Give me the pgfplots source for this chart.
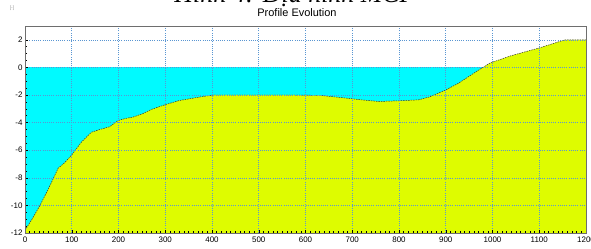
\documentclass[border=0pt]{standalone}
\usepackage{fontspec}
\setmainfont{Liberation Sans}
\newfontfamily\titlefont{Liberation Serif}
\usepackage{pgfplots}
\pgfplotsset{compat=1.18}
\definecolor{water}{RGB}{0,250,255}
\definecolor{land}{RGB}{222,252,0}
\definecolor{gridblue}{RGB}{90,150,210}
\definecolor{frame}{RGB}{110,110,110}
\begin{document}
\begin{tikzpicture}
\begin{axis}[
  scale only axis,
  width=561bp, height=207bp,
  xmin=0, xmax=1200, ymin=-12, ymax=3,
  xtick={0,100,...,1200},
  ytick={-12,-10,...,2},
  minor x tick num=9,
  minor y tick num=3,
  grid=major,
  major grid style={gridblue, line width=0.6pt, dash pattern=on 1pt off 1.2pt},
  axis on top,
  axis line style={frame, line width=0.8pt},
  tick style={black, line width=0.5pt},
  major tick length=3bp, minor tick length=2bp,
  tick align=inside,
  xtick pos=bottom, ytick pos=left,
  tick label style={font=\fontsize{8}{9}\selectfont},
  /pgf/number format/assume math mode=true,
  /pgf/number format/set thousands separator={},
  xticklabel style={yshift=0bp},
  yticklabel style={xshift=1bp},
  clip=true,
]
\addplot[fill=water, draw=none] coordinates {(0,0) (1200,0) (1200,-12) (0,-12)} -- cycle;
\addplot[fill=land, draw=none] coordinates {
(0,-11.8) (15,-11) (32,-10) (50,-8.8) (71,-7.3) (85,-6.9) (101,-6.3) (121,-5.4) (142,-4.7) (160,-4.5) (181,-4.3) (199,-3.85) (215,-3.7) (231,-3.6) (252,-3.35) (270,-3.05) (300,-2.7) (330,-2.4) (373,-2.15) (403,-2.0) (500,-2.0) (580,-2.0) (631,-2.03) (688,-2.23) (720,-2.35) (757,-2.47) (800,-2.42) (842,-2.35) (864,-2.15) (899,-1.65) (927,-1.15) (970,-0.2) (995,0.32) (1040,0.85) (1100,1.41) (1155,2.0) (1200,2.0)
(1200,-12) (0,-12)} -- cycle;
\addplot[black!80, line width=0.5pt, dash pattern=on 1.5pt off 1pt] coordinates {
(0,-11.8) (15,-11) (32,-10) (50,-8.8) (71,-7.3) (85,-6.9) (101,-6.3) (121,-5.4) (142,-4.7) (160,-4.5) (181,-4.3) (199,-3.85) (215,-3.7) (231,-3.6) (252,-3.35) (270,-3.05) (300,-2.7) (330,-2.4) (373,-2.15) (403,-2.0) (500,-2.0) (580,-2.0) (631,-2.03) (688,-2.23) (720,-2.35) (757,-2.47) (800,-2.42) (842,-2.35) (864,-2.15) (899,-1.65) (927,-1.15) (970,-0.2) (995,0.32) (1040,0.85) (1100,1.41) (1155,2.0) (1200,2.0)};
\end{axis}
\node[anchor=base, font=\fontsize{11}{12}\selectfont] at (272bp,216bp) {Profile Evolution};
\node[anchor=base, font=\titlefont\itshape\fontsize{26}{28}\selectfont] at (270bp,230bp) {Hình 4: Địa hình MCP};
\node[font=\fontsize{5}{5}\selectfont, text=black!40] at (-13bp,225bp) {[-]};
\pgfresetboundingbox
\path[use as bounding box] (-25bp,-16bp) rectangle (566bp,233bp);
\end{tikzpicture}
\end{document}
